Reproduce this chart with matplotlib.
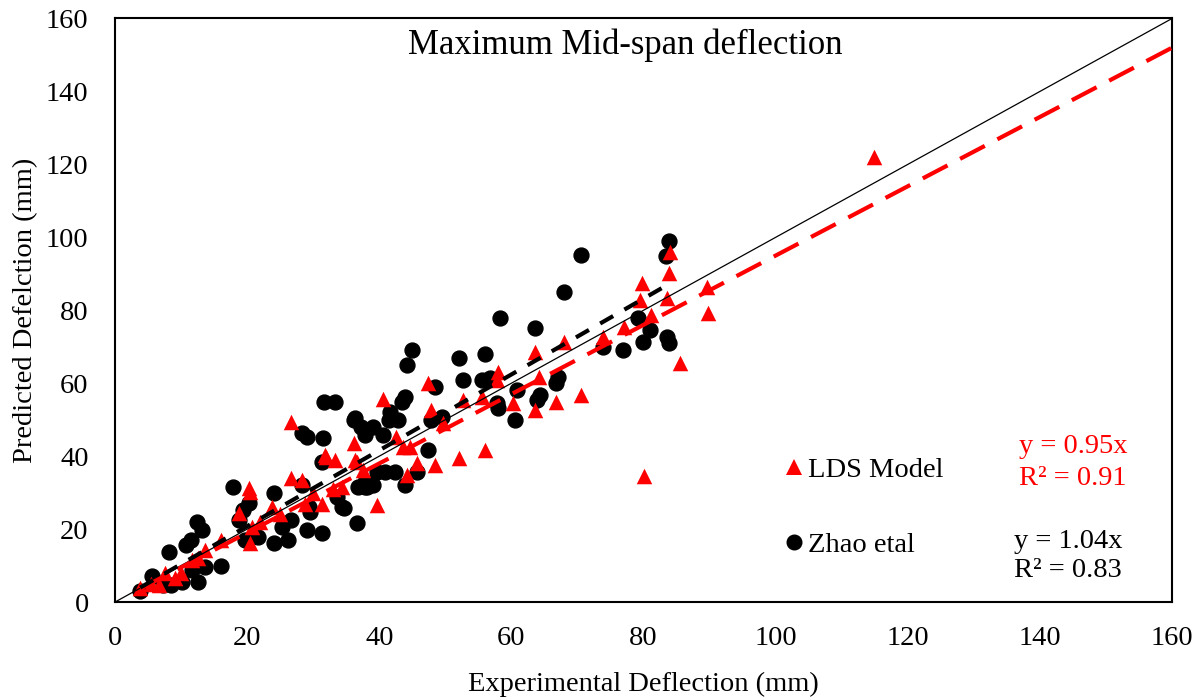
import matplotlib
matplotlib.use("Agg")
import matplotlib.pyplot as plt
import numpy as np
from matplotlib.lines import Line2D

plt.rcParams['font.family'] = ['Liberation Serif', 'DejaVu Serif']

zhao_x = [3.8, 5.6, 8.1, 7.3, 8.5, 10.1, 10.8, 11.5, 12.4, 13.2, 12.6, 11.6, 13.6, 16.1, 17.9, 18.7, 19.4, 20.2,
          19.7, 20.7, 21.7, 24.0, 24.0, 25.2, 26.7, 26.2, 29.0, 31.3, 28.3, 29.3, 33.6, 34.3, 36.6, 28.3, 29.0,
          31.5, 31.3, 31.6, 33.3, 36.3, 36.1, 37.3, 37.8, 39.1, 40.6, 41.6, 41.4, 42.9, 43.4, 43.9, 44.2, 44.9,
          47.9, 48.4, 49.5, 47.4, 37.8, 39.1, 39.6, 40.9, 42.4, 45.7, 43.9, 37.8, 52.0, 56.0, 52.7, 55.5, 56.8,
          58.3, 57.8, 58.0, 60.8, 60.6, 63.6, 63.8, 64.3, 67.1, 66.8, 67.9, 70.6, 73.9, 76.9, 79.2, 79.9, 81.0,
          83.5, 83.8, 83.9, 83.4, 29.5, 34.6, 36.8, 38.1]
zhao_y = [3.1, 7.2, 13.8, 4.8, 4.8, 5.6, 15.6, 17.0, 22.0, 19.7, 5.6, 8.8, 9.7, 9.9, 31.6, 22.5, 25.2, 27.1,
          17.0, 17.9, 17.9, 29.8, 16.1, 20.6, 22.5, 17.0, 19.7, 18.8, 32.1, 26.1, 28.9, 26.1, 21.6, 46.3, 45.3,
          44.9, 38.5, 54.9, 54.9, 50.4, 49.9, 48.1, 45.8, 48.1, 45.8, 52.2, 49.9, 49.9, 54.9, 56.3, 65.0, 69.1,
          49.9, 59.0, 50.8, 41.7, 33.0, 32.1, 35.7, 35.7, 35.7, 35.7, 32.1, 31.6, 66.8, 68.0, 60.9, 60.9, 61.5,
          77.8, 54.5, 53.1, 58.1, 49.9, 75.0, 55.4, 56.8, 61.8, 60.0, 85.1, 95.1, 70.0, 69.1, 77.8, 71.4, 74.6,
          72.7, 70.9, 99.1, 94.9, 24.8, 25.7, 31.6, 31.5]

lds_x = [3.8, 5.5, 6.6, 7.6, 9.0, 10.0, 11.6, 13.6, 12.5, 18.7, 20.2, 20.7, 20.4, 23.7, 22.0, 26.7, 26.7, 28.3,
         31.8, 33.3, 31.3, 28.8, 36.1, 36.3, 34.3, 40.6, 47.4, 47.9, 52.7, 55.5, 32.0, 36.6, 42.6, 43.6, 44.7,
         45.7, 48.4, 52.0, 56.0, 44.2, 39.6, 37.6, 49.7, 79.7, 83.8, 83.5, 79.5, 81.2, 77.0, 73.9, 67.9, 63.6,
         85.5, 70.6, 66.8, 63.6, 64.1, 60.3, 57.8, 58.0, 89.6, 89.7, 84.0, 114.9, 80.0, 30.0, 25.0, 16.0, 33.0, 20.4]
lds_y = [3.8, 5.0, 4.7, 7.9, 6.5, 8.0, 11.5, 14.3, 12.0, 24.3, 31.2, 20.6, 16.1, 26.1, 22.0, 49.4, 33.9, 33.5,
         40.3, 38.9, 27.0, 27.0, 43.5, 38.9, 31.6, 55.8, 60.0, 52.6, 55.4, 56.3, 39.8, 38.5, 45.3, 42.6, 42.6,
         38.0, 37.6, 39.4, 41.7, 34.8, 26.6, 36.2, 49.0, 87.4, 90.1, 83.3, 82.8, 78.7, 75.5, 72.7, 71.4, 68.6,
         65.5, 56.8, 54.9, 52.6, 61.8, 54.5, 60.9, 63.1, 86.5, 79.2, 96.0, 122.1, 34.5, 30.0, 24.0, 17.0, 31.0, 30.2]

lds_slope = 0.95
zhao_slope = 1.04
lds_fit_range = [3.8, 160]
zhao_fit_range = [3.8, 83.9]

FS = 20.5

fig = plt.figure(figsize=(12.01, 6.98), dpi=100)
ax = fig.add_axes([0.0958, 0.1375, 0.8801, 0.836])

ax.scatter(zhao_x, zhao_y, marker='o', s=115, color='black', zorder=3)
ax.scatter(lds_x, lds_y, marker='^', s=125, color='red', zorder=3, linewidths=0)

ax.plot([0, 160], [0, 160], color='black', lw=0.9, zorder=4)
xr = np.array(lds_fit_range)
ax.plot(xr, lds_slope * xr, color='red', lw=3.0, dashes=(6.7, 3.4), zorder=5)
xz = np.array(zhao_fit_range)
ax.plot(xz, zhao_slope * xz, color='black', lw=3.0, dashes=(3.6, 3.1), zorder=5)

ax.set_xlim(0, 160)
ax.set_ylim(0, 160)
ax.set_xticks(range(0, 161, 20))
ax.set_yticks(range(0, 161, 20))
ax.tick_params(axis='x', length=0, labelsize=FS, pad=17)
ax.tick_params(axis='y', length=0, labelsize=FS, pad=19)
for sp in ax.spines.values():
    sp.set_linewidth(1.5)

ax.set_xlabel('Experimental Deflection (mm)', fontsize=FS, labelpad=15)
ax.set_ylabel('Predicted Defelction (mm)', fontsize=FS, labelpad=6)
ax.text(0.4825, 0.9546, 'Maximum Mid-span deflection', transform=ax.transAxes,
        ha='center', va='center', fontsize=25)

handles = [Line2D([], [], marker='^', color='red', linestyle='none', markersize=11, markeredgewidth=0),
           Line2D([], [], marker='o', color='black', linestyle='none', markersize=10.5)]
ax.legend(handles, ['LDS Model', 'Zhao etal'], loc='center left', bbox_to_anchor=(0.606, 0.162),
          frameon=False, fontsize=FS, labelspacing=1.7, handletextpad=0.05, handlelength=0.9)

ax.text(0.855, 0.266, 'y = 0.95x', transform=ax.transAxes, color='red', fontsize=FS, va='center')
ax.text(0.855, 0.2125, 'R² = 0.91', transform=ax.transAxes, color='red', fontsize=FS, va='center')
ax.text(0.8505, 0.1045, 'y = 1.04x', transform=ax.transAxes, color='black', fontsize=FS, va='center')
ax.text(0.8505, 0.0548, 'R² = 0.83', transform=ax.transAxes, color='black', fontsize=FS, va='center')

fig.savefig('out.png', dpi=100)
